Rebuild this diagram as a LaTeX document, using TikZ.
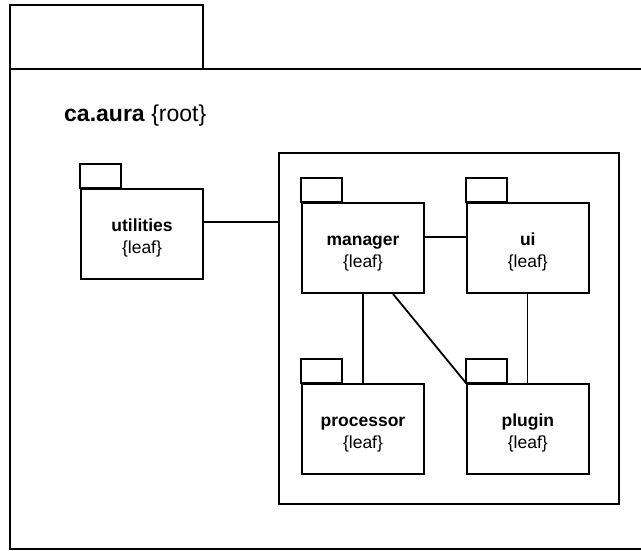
\documentclass[tikz,border=0pt]{standalone}
\usepackage{fontspec}
\setmainfont{Liberation Sans}
\usetikzlibrary{positioning}

\tikzset{
  pkg/.style={draw, line width=1.8pt, minimum width=122pt, minimum height=90pt,
    align=center, inner sep=0pt, text height=43pt, font=\fontsize{17.5}{22}\selectfont},
  link/.style={line width=1.3pt},
  boldlink/.style={line width=1.8pt}
}
% small tab on top of a package box
\newcommand{\pkgtab}[1]{\draw[line width=1.8pt] (#1.north west) rectangle ++(41,-24);}

\begin{document}
\begin{tikzpicture}[x=1pt, y=-1pt]
  \clip (0,0) rectangle (641,550);

  % Outer root package, cut off at the right
  \draw[line width=1.8pt] (10,5) rectangle (203,69);
  \draw[line width=1.8pt] (10,69) rectangle (660,549);
  \node[anchor=base west, inner sep=0pt, font=\fontsize{23}{26}\selectfont] (root) at (64,121)
    {\textbf{ca.aura} \{root\}};

  % Group box
  \node[draw, line width=1.8pt, minimum width=340pt, minimum height=351pt] (group) at (449,328.5) {};

  % Packages
  \node[pkg] (utilities) at (142,234) {\textbf{utilities}\\\{leaf\}};
  \node[pkg] (manager) at (363,248) {\textbf{manager}\\\{leaf\}};
  \node[pkg, right=41pt of manager] (ui) {\textbf{ui}\\\{leaf\}};
  \node[pkg, below=89pt of manager] (processor) {\textbf{processor}\\\{leaf\}};
  \node[pkg, below=89pt of ui] (plugin) {\textbf{plugin}\\\{leaf\}};

  \pkgtab{utilities}
  \pkgtab{manager}
  \pkgtab{ui}
  \pkgtab{processor}
  \pkgtab{plugin}

  % Connections
  \draw[boldlink] ([yshift=12pt]utilities.east) -- ([yshift=12pt]utilities.east -| group.west);
  \draw[link] ([yshift=11pt]manager.east) -- ([yshift=11pt]ui.west);
  \draw[link] (manager.south) -- (processor.north);
  \draw[link] (ui.south) -- (plugin.north);
  \draw[boldlink] ([xshift=30pt]manager.south) -- (plugin.north west);
\end{tikzpicture}
\end{document}
